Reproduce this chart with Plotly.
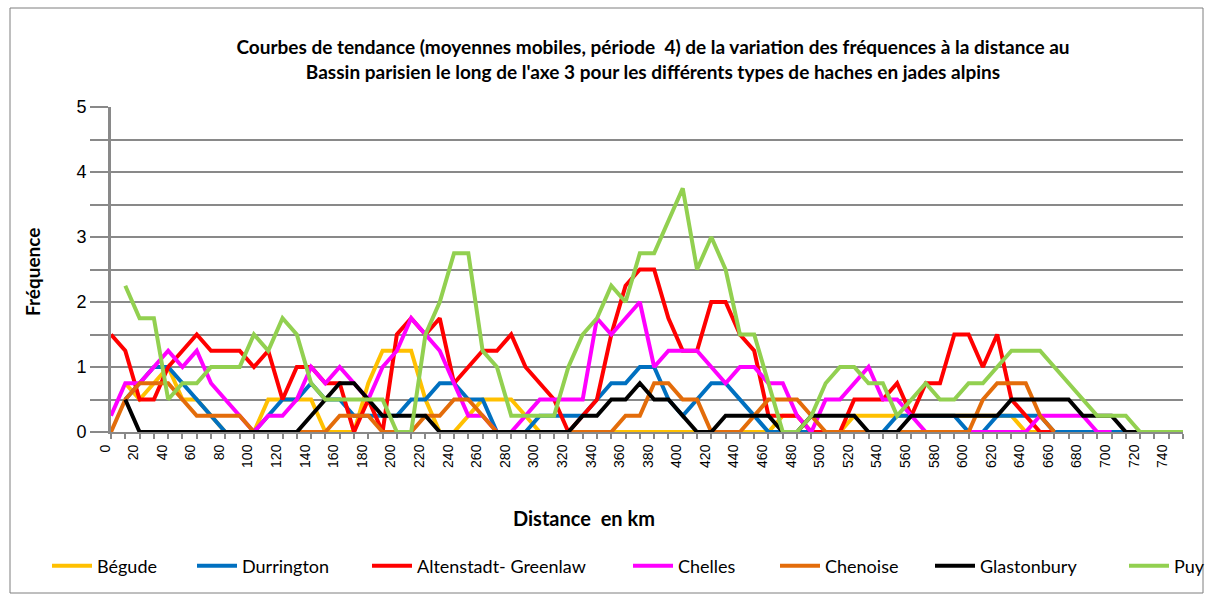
import plotly.graph_objects as go

# Distance along axis 3 (km), one point every 10 km
distance_km = list(range(0, 760, 10))
tick_km = list(range(0, 750, 20))

N = None
begude = [N, 0.75, 0.5, 0.75, 1.0, 0.5, 0.5, 0.25, 0, 0,
          0, 0.5, 0.5, 0.5, 0.5, 0, 0, 0, 0.75, 1.25,
          1.25, 1.25, 0.5, 0, 0, 0.25, 0.5, 0.5, 0.5, 0.25,
          0, 0, 0, 0, 0, 0, 0, 0, 0, 0,
          0, 0, 0, 0, 0, 0, 0, 0.25, 0.25, 0,
          0, 0, 0.25, 0.25, 0.25, 0.25, 0.25, 0.25, 0.25, 0.25,
          0.25, 0.25, 0.25, 0.25, 0, 0, 0, N, N, N,
          N, N, N, N, N, N]
durrington = [N, 0.5, 0.75, 1.0, 1.0, 0.75, 0.5, 0.25, 0, 0,
              0, 0.25, 0.5, 0.5, 0.75, 0.5, 0.5, 0.25, 0.25, 0.25,
              0.25, 0.5, 0.5, 0.75, 0.75, 0.5, 0.5, 0, 0, 0,
              0.25, 0.25, 0.25, 0.25, 0.5, 0.75, 0.75, 1.0, 1.0, 0.5,
              0.25, 0.5, 0.75, 0.75, 0.5, 0.25, 0, 0, 0, 0,
              0, 0, 0, 0, 0, 0.25, 0.25, 0.25, 0.25, 0.25,
              0, 0, 0.25, 0.25, 0.25, 0.25, 0, 0, 0, 0,
              0, 0, N, N, N, N]
altenstadt = [1.5, 1.25, 0.5, 0.5, 1.0, 1.25, 1.5, 1.25, 1.25, 1.25,
              1.0, 1.25, 0.5, 1.0, 1.0, 0.75, 0.75, 0, 0.5, 0,
              1.5, 1.75, 1.5, 1.75, 0.75, 1.0, 1.25, 1.25, 1.5, 1.0,
              0.75, 0.5, 0, 0.25, 0.5, 1.5, 2.25, 2.5, 2.5, 1.75,
              1.25, 1.25, 2.0, 2.0, 1.5, 1.25, 0.25, 0.25, 0.25, 0,
              0, 0, 0.5, 0.5, 0.5, 0.75, 0.25, 0.75, 0.75, 1.5,
              1.5, 1.0, 1.5, 0.5, 0.25, 0, 0, N, N, N,
              N, N, N, N, N, N]
chelles = [0.25, 0.75, 0.75, 1.0, 1.25, 1.0, 1.25, 0.75, 0.5, 0.25,
           0, 0.25, 0.25, 0.5, 1.0, 0.75, 1.0, 0.75, 0.5, 1.0,
           1.25, 1.75, 1.5, 1.25, 0.75, 0.25, 0.25, 0, 0, 0.25,
           0.5, 0.5, 0.5, 0.5, 1.75, 1.5, 1.75, 2.0, 1.0, 1.25,
           1.25, 1.25, 1.0, 0.75, 1.0, 1.0, 0.75, 0.75, 0.25, 0,
           0.5, 0.5, 0.75, 1.0, 0.5, 0.5, 0.25, 0, 0, 0,
           0, 0, 0, 0, 0, 0.25, 0.25, 0.25, 0.25, 0,
           0, N, N, N, N, N]
chenoise = [0, 0.5, 0.75, 0.75, 0.75, 0.5, 0.25, 0.25, 0.25, 0.25,
            0, 0, 0, 0, 0, 0, 0.25, 0.25, 0.25, 0,
            0, 0, 0.25, 0.25, 0.5, 0.5, 0.25, 0, 0, 0,
            0, 0, 0, 0, 0, 0, 0.25, 0.25, 0.75, 0.75,
            0.5, 0.5, 0, 0, 0, 0.25, 0.5, 0.5, 0.5, 0.25,
            0, 0, 0, 0, 0, 0, 0, 0, 0, 0,
            0, 0.5, 0.75, 0.75, 0.75, 0.25, 0, N, N, N,
            N, N, N, N, N, N]
glastonbury = [N, 0.5, 0, 0, 0, 0, 0, 0, 0, 0,
               0, 0, 0, 0, 0.25, 0.5, 0.75, 0.75, 0.5, 0.25,
               0.25, 0.25, 0.25, 0, 0, 0, 0, 0, 0, 0,
               0, 0, 0, 0.25, 0.25, 0.5, 0.5, 0.75, 0.5, 0.5,
               0.25, 0, 0, 0.25, 0.25, 0.25, 0.25, 0, 0, 0.25,
               0.25, 0.25, 0.25, 0, 0, 0, 0.25, 0.25, 0.25, 0.25,
               0.25, 0.25, 0.25, 0.5, 0.5, 0.5, 0.5, 0.5, 0.25, 0.25,
               0.25, 0, 0, N, N, N]
puy = [N, 2.25, 1.75, 1.75, 0.5, 0.75, 0.75, 1.0, 1.0, 1.0,
       1.5, 1.25, 1.75, 1.5, 0.75, 0.5, 0.5, 0.5, 0.5, 0.5,
       0, 0, 1.5, 2.0, 2.75, 2.75, 1.25, 1.0, 0.25, 0.25,
       0.25, 0.25, 1.0, 1.5, 1.75, 2.25, 2.0, 2.75, 2.75, 3.25,
       3.75, 2.5, 3.0, 2.5, 1.5, 1.5, 0.75, 0, 0, 0.25,
       0.75, 1.0, 1.0, 0.75, 0.75, 0.25, 0.5, 0.75, 0.5, 0.5,
       0.75, 0.75, 1.0, 1.25, 1.25, 1.25, 1.0, 0.75, 0.5, 0.25,
       0.25, 0.25, 0, 0, 0, 0]

series = [
    ("Bégude", begude, "#FFC000"),
    ("Durrington", durrington, "#0070C0"),
    ("Altenstadt- Greenlaw", altenstadt, "#FF0000"),
    ("Chelles", chelles, "#FF00FF"),
    ("Chenoise", chenoise, "#E36C0A"),
    ("Glastonbury", glastonbury, "#000000"),
    ("Puy", puy, "#92D050"),
]

# pixel layout of the figure
W, H = 1206, 598
L, R, T, B = 111, 23, 107, 166
PW, PH = W - L - R, H - T - B


def px_x(px):
    return (px - L) / PW


def px_y(py):
    return (H - B - py) / PH


TEXT_FONT = "Lato, Roboto, sans-serif"
NUM_FONT = "Liberation Sans, Arial, sans-serif"
GRID = "#898989"

fig = go.Figure()
# one small legend per series so each entry sits at its own place on the row
legend_left = [47, 192, 367, 628, 775, 930, 1124]
legend_keys = [f"legend{k + 2}" for k in range(len(series))]
for key, (name, vals, color) in zip(legend_keys, series):
    fig.add_trace(go.Scatter(
        x=distance_km, y=vals, name=name, mode="lines",
        line=dict(color=color, width=4), legend=key,
    ))

layout_legends = {}
for key, left in zip(legend_keys, legend_left):
    layout_legends[key] = dict(
        xref="container", yref="container",
        x=left / W, xanchor="left", y=1 - 566 / H, yanchor="middle",
        orientation="h", bgcolor="rgba(0,0,0,0)", borderwidth=0,
        font=dict(family=TEXT_FONT, size=18, color="#000"),
        itemwidth=40,
    )

fig.update_layout(
    width=W, height=H,
    margin=dict(l=L, r=R, t=T, b=B, autoexpand=False),
    paper_bgcolor="white", plot_bgcolor="white",
    showlegend=True,
    title=dict(
        text="<b>Courbes de tendance (moyennes mobiles, période  4) de la variation des fréquences à la distance au<br>"
             "Bassin parisien le long de l'axe 3 pour les différents types de haches en jades alpins</b>",
        x=653 / W, xanchor="center", y=1 - 54 / H, yanchor="middle",
        font=dict(family=TEXT_FONT, size=19, color="#000"),
    ),
    xaxis=dict(
        range=[0, 750], tickvals=tick_km, ticktext=[str(v) for v in tick_km],
        tickangle=-90, showgrid=False, zeroline=False,
        showline=True, linecolor=GRID, linewidth=2,
        ticks="outside", ticklen=5, tickwidth=2, tickcolor=GRID,
        minor=dict(dtick=10, tick0=0, ticks="outside", ticklen=5, tickwidth=2, tickcolor=GRID),
        tickfont=dict(family=NUM_FONT, size=14, color="#000"),
        ticklabelshift=-6,
    ),
    yaxis=dict(
        range=[0, 5], tickvals=[0, 1, 2, 3, 4, 5],
        showgrid=True, gridcolor=GRID, gridwidth=2, zeroline=False,
        showline=True, linecolor=GRID, linewidth=3,
        ticks="outside", ticklen=18, tickwidth=2, tickcolor=GRID,
        minor=dict(dtick=0.5, showgrid=True, gridcolor=GRID, gridwidth=2,
                   ticks="outside", ticklen=18, tickwidth=2, tickcolor=GRID),
        tickfont=dict(family=NUM_FONT, size=18, color="#000"),
    ),
    annotations=[
        dict(text="<b>Fréquence</b>", xref="paper", yref="paper",
             x=px_x(32), y=px_y(272), xanchor="center", yanchor="middle",
             textangle=-90, showarrow=False,
             font=dict(family=TEXT_FONT, size=19, color="#000")),
        dict(text="<b>Distance  en km</b>", xref="paper", yref="paper",
             x=px_x(584), y=px_y(518), xanchor="center", yanchor="middle",
             showarrow=False,
             font=dict(family=TEXT_FONT, size=20, color="#000")),
    ],
    shapes=[
        dict(type="rect", xref="paper", yref="paper",
             x0=px_x(10), x1=px_x(1203), y0=px_y(593), y1=px_y(8),
             line=dict(color="#7f7f7f", width=1), layer="below"),
    ],
    **layout_legends,
)

fig.write_html("out.html")
